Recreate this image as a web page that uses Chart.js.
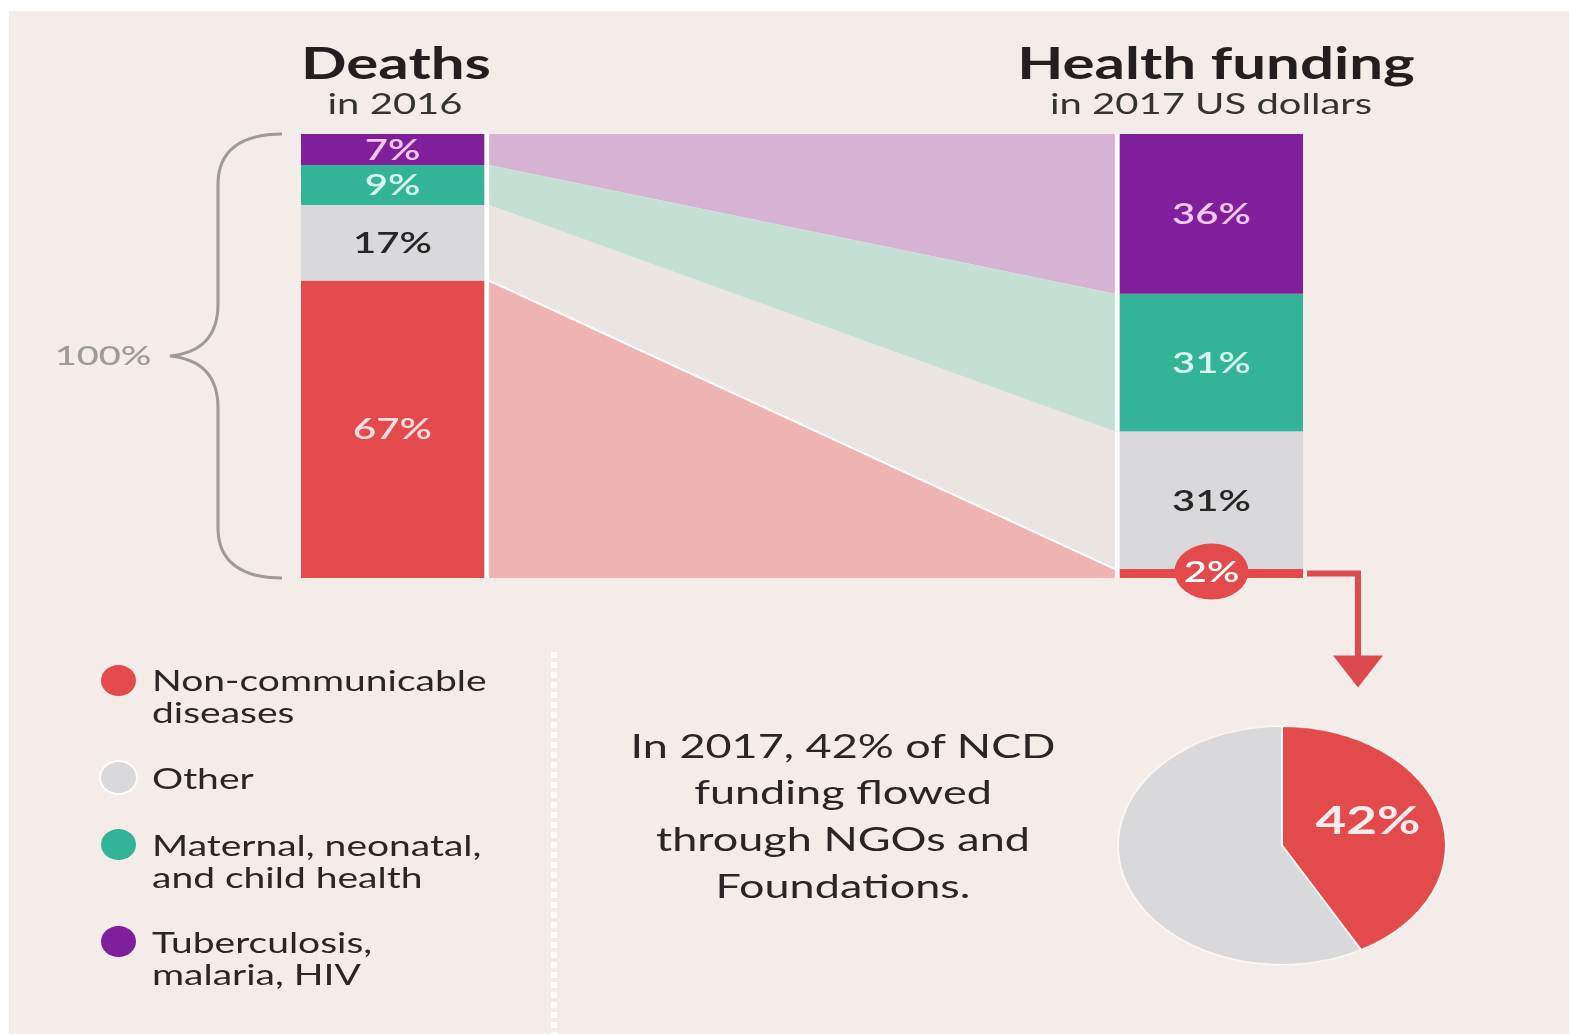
<!DOCTYPE html>
<html>
<head>
<meta charset="utf-8">
<title>Deaths vs health funding</title>
<script src="https://cdn.jsdelivr.net/npm/chart.js@4.4.0/dist/chart.umd.min.js"></script>
<style>
  body { margin: 0; background: #ffffff; font-family: Lato, "Open Sans", sans-serif; }
  #page { position: relative; width: 1569px; height: 1034px; overflow: hidden; background: #ffffff; }
  #panel { position: absolute; left: 9px; top: 11px; right: 0; bottom: 0; background: #f4ece8; }
  #flow { position: absolute; left: 0; top: 0; }
  /* the whole layout is squashed vertically, text follows the same ratio */
  .txt { position: absolute; white-space: nowrap; color: #2a2627; transform: scaleY(0.73); transform-origin: 0 0; }
  .title { font-weight: 700; font-size: 60px; line-height: 60px; text-align: center; color: #231f20; }
  .sub { font-weight: 400; font-size: 40px; line-height: 40px; text-align: center; color: #333; }
  .legend { font-size: 39px; line-height: 44px; left: 152px; }
  .dot { position: absolute; left: 101px; width: 35px; height: 31px; border-radius: 50%; }
  #divider { position: absolute; left: 551px; top: 652px; width: 6px; height: 382px;
             background: repeating-linear-gradient(to bottom, #ffffff 0 6px, transparent 6px 10px); }
  #note { left: 593px; width: 500px; text-align: center; font-size: 45px; line-height: 64px; top: 722px; }
  #pieBox { position: absolute; left: 1115px; top: 724px; width: 334px; height: 334px;
            transform: scaleY(0.727); transform-origin: 0 0; }
  #pieLabel { left: 1288px; width: 160px; top: 800px; text-align: center; font-weight: 700;
              font-size: 53px; line-height: 54px; color: #fbecec; }
</style>
</head>
<body>
<div id="page">
  <div id="panel"></div>
  <canvas id="flow" width="1569" height="1034"></canvas>

  <div class="txt title" style="left:296px; width:200px; top:40px;">Deaths</div>
  <div class="txt sub" style="left:295px; width:200px; top:88px;">in 2016</div>
  <div class="txt title" style="left:966px; width:500px; top:40px;">Health funding</div>
  <div class="txt sub" style="left:961px; width:500px; top:88px;">in 2017 US dollars</div>
  <div class="txt" style="left:53px; width:100px; top:340px; font-size:38px; line-height:38px; text-align:center; color:#9b9b9b; font-weight:500;">100%</div>

  <div class="dot" style="top:665px; background:#e24a4c;"></div>
  <div class="txt legend" style="top:664px;">Non-communicable<br>diseases</div>
  <div class="dot" style="top:762px; background:#d9d8da; box-shadow:0 0 0 2px #ffffff;"></div>
  <div class="txt legend" style="top:762px;">Other</div>
  <div class="dot" style="top:829px; background:#33b497;"></div>
  <div class="txt legend" style="top:829px;">Maternal, neonatal,<br>and child health</div>
  <div class="dot" style="top:926px; background:#7f1f9b;"></div>
  <div class="txt legend" style="top:926px;">Tuberculosis,<br>malaria, HIV</div>

  <div id="divider"></div>
  <div class="txt" id="note">In 2017, 42% of NCD<br>funding flowed<br>through NGOs and<br>Foundations.</div>

  <div id="pieBox"><canvas id="ngoPie" width="334" height="334"></canvas></div>
  <div class="txt" id="pieLabel"></div>
</div>

<script>
// share of deaths and of funding per cause, top to bottom
const columns = ['Deaths in 2016', 'Health funding in 2017 US dollars'];
const causes = ['Tuberculosis, malaria, HIV', 'Maternal, neonatal, and child health', 'Other', 'Non-communicable diseases'];
const deathsPct = [7, 9, 17, 67];
const fundingPct = [36, 31, 31, 2];

// NCD funding split by channel
const ngoLabels = ['NGOs and Foundations', 'Other channels'];
const ngoPct = [42, 58];

const solid = ['#7f1f9b', '#33b497', '#d9d8da', '#e34a4c'];
const soft = ['#d7b3d3', '#c4e0d5', '#ebe5e2', '#efb3b2'];
const ink = ['#f4c9ef', '#d8f6ee', '#262626', '#f7dede'];
const SQUASH = 0.73;

function box(el) {
    return el.getProps(['x', 'y', 'base', 'width'], true);
}

// light ribbons joining each segment of the left bar to the right bar
const flowBands = {
    id: 'flowBands',
    beforeDatasetsDraw(chart) {
        const ctx = chart.ctx;
        const edges = [];
        chart.data.datasets.forEach((ds, i) => {
            const a = box(chart.getDatasetMeta(i).data[0]);
            const b = box(chart.getDatasetMeta(i).data[1]);
            const x0 = a.x + a.width / 2, x1 = b.x - b.width / 2;
            const t0 = Math.min(a.y, a.base), b0 = Math.max(a.y, a.base);
            const t1 = Math.min(b.y, b.base), b1 = Math.max(b.y, b.base);
            ctx.save();
            ctx.fillStyle = soft[i];
            ctx.beginPath();
            ctx.moveTo(x0, t0);
            ctx.lineTo(x1, t1);
            ctx.lineTo(x1, b1);
            ctx.lineTo(x0, b0);
            ctx.closePath();
            ctx.fill();
            ctx.restore();
            edges.push([x0, t0, x1, t1]);
        });
        // thin white seam above the NCD ribbon
        const e = edges[edges.length - 1];
        ctx.save();
        ctx.strokeStyle = '#ffffff';
        ctx.lineWidth = 2;
        ctx.beginPath();
        ctx.moveTo(e[0], e[1]);
        ctx.lineTo(e[2], e[3]);
        ctx.stroke();
        ctx.restore();
    }
};

function squashedText(ctx, text, x, y, font, color) {
    ctx.save();
    ctx.translate(x, y);
    ctx.scale(1, SQUASH);
    ctx.font = font;
    ctx.fillStyle = color;
    ctx.textAlign = 'center';
    ctx.textBaseline = 'alphabetic';
    ctx.fillText(text, 0, 14);
    ctx.restore();
}

// percentage labels, the 2% callout with its arrow, and the 100% brace
const barNotes = {
    id: 'barNotes',
    afterDatasetsDraw(chart) {
        const ctx = chart.ctx;
        chart.data.datasets.forEach((ds, i) => {
            chart.getDatasetMeta(i).data.forEach((el, j) => {
                const r = box(el);
                const cx = r.x + (j === 0 ? -2.5 : 2.5);
                const cy = (r.y + r.base) / 2;
                const v = ds.data[j];
                if (v >= 5) {
                    squashedText(ctx, v + '%', cx, cy, '600 40px Lato', ink[i]);
                    return;
                }
                // small slice: red badge plus arrow down to the pie
                ctx.save();
                ctx.fillStyle = solid[i];
                ctx.beginPath();
                ctx.ellipse(cx, cy - 2, 37, 28, 0, 0, Math.PI * 2);
                ctx.fill();
                ctx.restore();
                squashedText(ctx, v + '%', cx, cy - 2, '600 40px Lato', '#ffffff');

                const sx = r.x + r.width / 2 + 4;
                const ex = sx + 51;
                ctx.save();
                ctx.strokeStyle = '#dc4a4d';
                ctx.fillStyle = '#dc4a4d';
                ctx.lineWidth = 6;
                ctx.beginPath();
                ctx.moveTo(sx, cy);
                ctx.lineTo(ex, cy);
                ctx.lineTo(ex, cy + 86);
                ctx.stroke();
                ctx.beginPath();
                ctx.moveTo(ex - 25, cy + 82);
                ctx.lineTo(ex + 25, cy + 82);
                ctx.lineTo(ex, cy + 114);
                ctx.closePath();
                ctx.fill();
                ctx.restore();
            });
        });

        // curly brace spanning the full 0-100% height
        const yTop = chart.scales.y.getPixelForValue(0);
        const yBot = chart.scales.y.getPixelForValue(100);
        const mid = (yTop + yBot) / 2;
        ctx.save();
        ctx.strokeStyle = '#9d9b9b';
        ctx.lineWidth = 3;
        ctx.beginPath();
        ctx.moveTo(282, yTop);
        ctx.bezierCurveTo(242, yTop, 218, yTop + 16, 218, yTop + 50);
        ctx.lineTo(218, mid - 52);
        ctx.bezierCurveTo(218, mid - 18, 200, mid - 3, 170, mid);
        ctx.bezierCurveTo(200, mid + 3, 218, mid + 18, 218, mid + 52);
        ctx.lineTo(218, yBot - 50);
        ctx.bezierCurveTo(218, yBot - 16, 242, yBot, 282, yBot);
        ctx.stroke();
        ctx.restore();
    }
};

new Chart(document.getElementById('flow'), {
    type: 'bar',
    data: {
        labels: columns,
        datasets: causes.map((name, i) => ({
            label: name,
            data: [deathsPct[i], fundingPct[i]],
            backgroundColor: solid[i],
            borderColor: '#ffffff',
            borderWidth: ctx => ctx.dataIndex === 0
                ? { top: 0, bottom: 0, left: 0, right: 5 }
                : { top: 0, bottom: 0, left: 5, right: 0 },
            borderSkipped: false,
            barThickness: 188,
            clip: false
        }))
    },
    options: {
        responsive: false,
        animation: false,
        events: [],
        layout: { padding: { left: 395, right: 360, top: 134, bottom: 456 } },
        plugins: { legend: { display: false }, tooltip: { enabled: false } },
        scales: {
            x: { type: 'category', offset: false, stacked: true, display: false },
            y: { stacked: true, min: 0, max: 100, reverse: true, display: false }
        }
    },
    plugins: [flowBands, barNotes]
});

new Chart(document.getElementById('ngoPie'), {
    type: 'pie',
    data: {
        labels: ngoLabels,
        datasets: [{
            data: ngoPct,
            backgroundColor: ['#e34a4c', '#d9d8da'],
            borderColor: '#fbf7f5',
            borderWidth: 2
        }]
    },
    options: {
        responsive: false,
        animation: false,
        events: [],
        layout: { padding: 2 },
        plugins: { legend: { display: false }, tooltip: { enabled: false } }
    }
});

document.getElementById('pieLabel').textContent = ngoPct[0] + '%';
</script>
</body>
</html>
